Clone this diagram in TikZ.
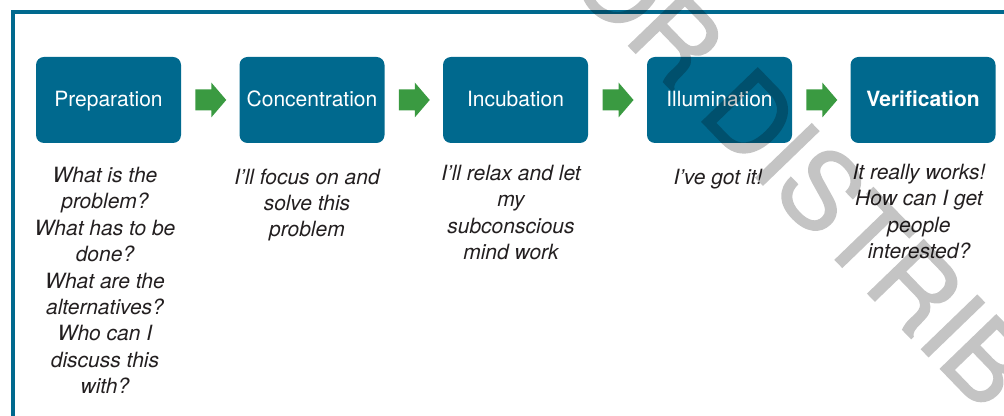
\documentclass[tikz,border=0pt]{standalone}
\usepackage{fontspec}
\setmainfont{TeX Gyre Heros}
\newfontfamily\wmfont[FakeBold=1.5]{TeX Gyre Heros}
\usetikzlibrary{calc}
\definecolor{stageblue}{HTML}{00698E}
\definecolor{arrowgreen}{HTML}{3A9A41}
\definecolor{desctext}{HTML}{231F20}
\begin{document}
\begin{tikzpicture}[x=0.75pt,y=-0.75pt,
  stagebox/.style={fill=stageblue, draw=none, rounded corners=6pt,
    minimum width=108.75pt, minimum height=64.5pt, inner sep=0pt,
    text=white, font=\fontsize{15.75}{19}\selectfont,
    text height=11.3pt, text depth=1.5pt},
  desc/.style={text=desctext, font=\fontsize{15.75}{19.8}\selectfont\itshape,
    align=center, anchor=north, inner sep=0pt},
  nextarrow/.pic={\fill[arrowgreen] (-15,-10.5) -- (1,-10.5) -- (1,-17.5) -- (16,0)
      -- (1,17.5) -- (1,10.5) -- (-15,10.5) -- cycle;},
  frameline/.style={draw=stageblue, line width=3pt},
  watermark/.style={text=black, inner sep=0pt,
    font=\wmfont\fontsize{79.5}{79.5}\selectfont, rotate=-46, anchor=base west}]
\useasboundingbox (0,0) rectangle (1004,416);
\clip (0,0) rectangle (1004,416);
\draw[frameline] (12.5,12.5) rectangle (1040,450);
% stages
\node[stagebox] (prep) at (108.5,100) {Preparation};
\node[stagebox] (conc) at (312,100) {Concentration};
\node[stagebox] (incu) at (515.5,100) {Incubation};
\node[stagebox] (illu) at (719.5,100) {Illumination};
\node[stagebox] (veri) at (923,100) {\bfseries Verification};
% arrows between stages
\coordinate (m1) at ($(prep.east)!0.5!(conc.west)$);
\coordinate (m2) at ($(conc.east)!0.5!(incu.west)$);
\coordinate (m3) at ($(incu.east)!0.5!(illu.west)$);
\coordinate (m4) at ($(illu.east)!0.5!(veri.west)$);
\pic at (m1) {nextarrow};
\pic at (m2) {nextarrow};
\pic at (m3) {nextarrow};
\pic at (m4) {nextarrow};
% descriptions
\node[desc] (dprep) at (105,166.9) {What is the\\problem?\\What has to be\\done?\\What are the\\alternatives?\\Who can I\\discuss this\\with?};
\node[desc] (dconc) at (307,168.4) {I’ll focus on and\\solve this\\problem};
\node[desc] (dincu) at (511,164.9) {I’ll relax and let\\my\\subconscious\\mind work};
\node[desc] (dillu) at (718,168.9) {I’ve got it!};
\node[desc] (dveri) at (919,163.9) {It really works!\\How can I get\\people\\interested?};
% watermark
\begin{scope}[transparency group, opacity=0.23]
\node[watermark] (wm) at (564.5,-20.7) {OR DISTRIB};
\end{scope}
\end{tikzpicture}
\end{document}
